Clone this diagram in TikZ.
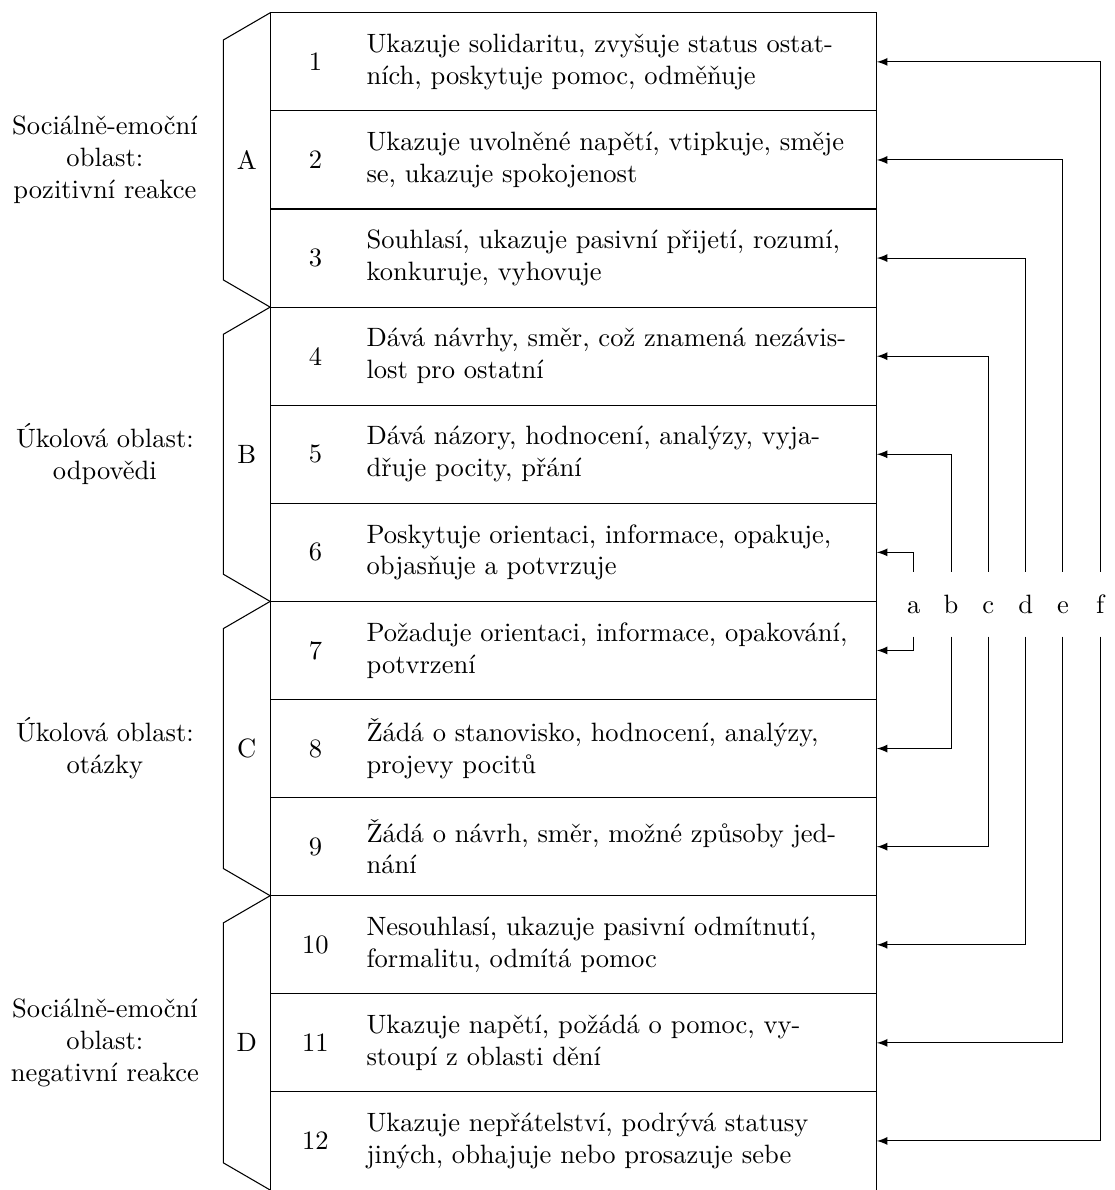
\documentclass[tikz,border=0pt]{standalone}
\usepackage{fontspec}
\usetikzlibrary{arrows}

\begin{document}
\begin{tikzpicture}[
		rowtext/.style={anchor=west,text width=6.6cm,align=left,inner sep=0pt},
		grouplabel/.style={align=center},
		letter/.style={anchor=base,text height=7pt,text depth=0pt,inner xsep=0pt,inner ysep=8.5pt}]
			\useasboundingbox (-3.58,0.17) rectangle (11.19,-15.6);

			% table
			\draw (0,0) -- (8.04,0);
			\foreach \k in {1,...,11} \draw (0,-1.3*\k) -- (8.04,-1.3*\k);
			\draw (0,0) -- (0,-15.6);
			\draw (8.04,0) -- (8.04,-15.6);
			\foreach \g in {0,...,3} \draw (0,-3.9*\g) -- ++(-0.62,-0.36) -- ++(0,-3.18) -- ++(0.62,-0.36);

			\foreach \k/\txt in {
				1/{Ukazuje solidaritu, zvyšuje status ostat-\\ních, poskytuje pomoc, odměňuje},
				2/{Ukazuje uvolněné napětí, vtipkuje, směje\\se, ukazuje spokojenost},
				3/{Souhlasí, ukazuje pasivní přijetí, rozumí,\\konkuruje, vyhovuje},
				4/{Dává návrhy, směr, což znamená nezávis-\\lost pro ostatní},
				5/{Dává názory, hodnocení, analýzy, vyja-\\dřuje pocity, přání},
				6/{Poskytuje orientaci, informace, opakuje,\\objasňuje a potvrzuje},
				7/{Požaduje orientaci, informace, opakování,\\potvrzení},
				8/{Žádá o stanovisko, hodnocení, analýzy,\\projevy pocitů},
				9/{Žádá o návrh, směr, možné způsoby jed-\\nání},
				10/{Nesouhlasí, ukazuje pasivní odmítnutí,\\formalitu, odmítá pomoc},
				11/{Ukazuje napětí, požádá o pomoc, vy-\\stoupí z oblasti dění},
				12/{Ukazuje nepřátelství, podrývá statusy\\jiných, obhajuje nebo prosazuje sebe}} {
				\node (n\k) at (0.6,-1.3*\k+0.65) {\k};
				\node[rowtext] (t\k) at (1.27,-1.3*\k+0.65) {\txt};
				\coordinate (r\k) at (8.04,-1.3*\k+0.65);
			}

			\node (A) at (-0.31,-1.95) {A};
			\node (B) at (-0.31,-5.85) {B};
			\node (C) at (-0.31,-9.75) {C};
			\node (D) at (-0.31,-13.65) {D};

			\node[grouplabel] (areaA) at (-2.19,-1.95) {Sociálně-emoční\\oblast:\\pozitivní reakce};
			\node[grouplabel] (areaB) at (-2.19,-5.85) {Úkolová oblast:\\odpovědi};
			\node[grouplabel] (areaC) at (-2.19,-9.75) {Úkolová oblast:\\otázky};
			\node[grouplabel] (areaD) at (-2.19,-13.65) {Sociálně-emoční\\oblast:\\negativní reakce};

			% pairs of categories
			\foreach \l [count=\i] in {a,b,c,d,e,f} {
				\node[letter] (\l) at (8.036+0.494*\i,-7.96) {\l};
				\pgfmathtruncatemacro\up{7-\i}
				\pgfmathtruncatemacro\dn{6+\i}
				\draw[-latex] (\l.north) |- (r\up);
				\draw[-latex] (\l.south) |- (r\dn);
			}
		\end{tikzpicture}
\end{document}
